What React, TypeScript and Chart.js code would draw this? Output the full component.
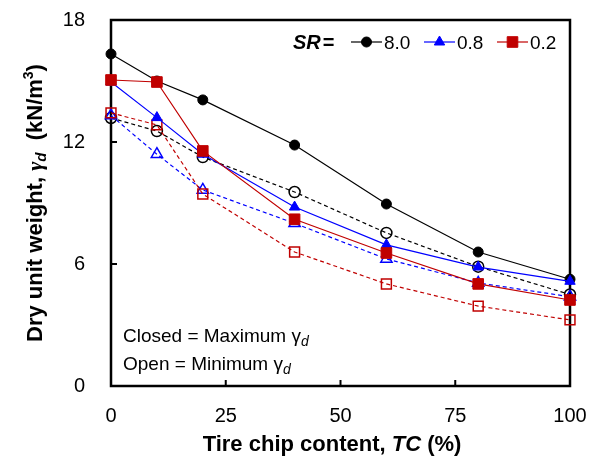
import React, { useEffect, useRef } from "react";
import { Chart, registerables } from "chart.js";

Chart.register(...registerables);

// ---------- data ----------
const tireChipContent = [0, 10, 20, 40, 60, 80, 100];

const maxSR80 = [16.33, 15.0, 14.07, 11.85, 8.95, 6.59, 5.25];
const maxSR08 = [14.95, 13.2, 11.4, 8.8, 6.94, 5.85, 5.15];
const maxSR02 = [15.05, 14.95, 11.56, 8.2, 6.54, 5.02, 4.23];

const minSR80 = [13.18, 12.54, 11.26, 9.54, 7.53, 5.87, 4.5];
const minSR08 = [13.3, 11.4, 9.64, 8.0, 6.25, 5.07, 4.39];
const minSR02 = [13.43, 12.84, 9.44, 6.59, 5.02, 3.93, 3.25];

const xTickValues = [0, 25, 50, 75, 100];
const yTickValues = [0, 6, 12, 18];

const legendLabels = ["8.0", "0.8", "0.2"];

// ---------- style ----------
const FONT = "'Liberation Sans', Arial, Helvetica, sans-serif";
const SERIF = "'Liberation Serif', 'Times New Roman', serif";
const BLACK = "#000000";
const BLUE = "#0000FF";
const RED = "#C00000";

const AREA = { left: 111, top: 20, right: 570, bottom: 386 };

type Run = { text: string; font: string; dy?: number; dx?: number };

function runsWidth(ctx: CanvasRenderingContext2D, runs: Run[]) {
  let w = 0;
  for (const r of runs) {
    ctx.font = r.font;
    w += ctx.measureText(r.text).width + (r.dx || 0);
  }
  return w;
}

function drawRuns(
  ctx: CanvasRenderingContext2D,
  runs: Run[],
  x: number,
  y: number,
  align: "left" | "center" = "left"
) {
  let cx = align === "center" ? x - runsWidth(ctx, runs) / 2 : x;
  ctx.textAlign = "left";
  ctx.textBaseline = "alphabetic";
  for (const r of runs) {
    ctx.font = r.font;
    cx += r.dx || 0;
    ctx.fillText(r.text, cx, y + (r.dy || 0));
    cx += ctx.measureText(r.text).width;
  }
}

function drawMarker(
  ctx: CanvasRenderingContext2D,
  style: string,
  x: number,
  y: number,
  r: number,
  color: string
) {
  ctx.fillStyle = color;
  ctx.strokeStyle = color;
  ctx.lineWidth = 1;
  ctx.beginPath();
  if (style === "circle") {
    ctx.arc(x, y, r, 0, Math.PI * 2);
  } else if (style === "triangle") {
    const h = r * 1.5;
    const s = (r * Math.sqrt(3)) / 2;
    ctx.moveTo(x, y - r);
    ctx.lineTo(x + s, y - r + h);
    ctx.lineTo(x - s, y - r + h);
    ctx.closePath();
  } else {
    const s = r * Math.SQRT1_2;
    ctx.rect(x - s, y - s, 2 * s, 2 * s);
  }
  ctx.fill();
  ctx.stroke();
}

const decorPlugin = {
  id: "decor",
  beforeDatasetsDraw(chart: any) {
    const { ctx, chartArea: a, scales } = chart;
    ctx.save();
    ctx.strokeStyle = BLACK;
    ctx.lineWidth = 2.5;
    ctx.strokeRect(a.left, a.top, a.right - a.left, a.bottom - a.top);
    ctx.lineWidth = 2;
    ctx.beginPath();
    for (const v of yTickValues) {
      if (v === yTickValues[0] || v === yTickValues[yTickValues.length - 1]) continue;
      const py = scales.y.getPixelForValue(v);
      ctx.moveTo(a.left, py);
      ctx.lineTo(a.left + 6, py);
    }
    for (const v of xTickValues) {
      if (v === xTickValues[0] || v === xTickValues[xTickValues.length - 1]) continue;
      const px = scales.x.getPixelForValue(v);
      ctx.moveTo(px, a.bottom);
      ctx.lineTo(px, a.bottom - 6);
    }
    ctx.stroke();
    ctx.restore();
  },
  afterDraw(chart: any) {
    const { ctx } = chart;
    ctx.save();
    ctx.fillStyle = BLACK;

    // x title
    drawRuns(
      ctx,
      [
        { text: "Tire chip content, ", font: `bold 22px ${FONT}` },
        { text: "TC", font: `italic bold 22px ${FONT}` },
        { text: " (%)", font: `bold 22px ${FONT}` },
      ],
      332,
      451,
      "center"
    );

    // y title
    ctx.save();
    ctx.translate(42, 203);
    ctx.rotate(-Math.PI / 2);
    drawRuns(
      ctx,
      [
        { text: "Dry unit weight, ", font: `bold 22px ${FONT}` },
        { text: "γ", font: `italic bold 22px ${SERIF}` },
        { text: "d", font: `italic bold 15px ${FONT}`, dy: 4 },
        { text: "  (kN/m", font: `bold 22px ${FONT}` },
        { text: "3", font: `bold 14px ${FONT}`, dy: -9 },
        { text: ")", font: `bold 22px ${FONT}` },
      ],
      0,
      0,
      "center"
    );
    ctx.restore();

    // annotations
    ctx.fillStyle = BLACK;
    drawRuns(
      ctx,
      [
        { text: "Closed = Maximum ", font: `19px ${FONT}` },
        { text: "γ", font: `19px ${FONT}` },
        { text: "d", font: `italic 14px ${FONT}`, dy: 4 },
      ],
      123,
      342
    );
    drawRuns(
      ctx,
      [
        { text: "Open = Minimum ", font: `19px ${FONT}` },
        { text: "γ", font: `19px ${FONT}` },
        { text: "d", font: `italic 14px ${FONT}`, dy: 4 },
      ],
      123,
      370
    );

    // legend
    drawRuns(
      ctx,
      [
        { text: "SR", font: `italic bold 20px ${FONT}` },
        { text: "=", font: `bold 20px ${FONT}`, dx: 2 },
      ],
      293,
      49
    );
    const items = [
      { x: 351, color: BLACK, style: "circle", r: 5 },
      { x: 424, color: BLUE, style: "triangle", r: 6 },
      { x: 497, color: RED, style: "rect", r: 7.5 },
    ];
    items.forEach((it, i) => {
      const yc = 42;
      ctx.strokeStyle = it.color;
      ctx.lineWidth = 1.2;
      ctx.beginPath();
      ctx.moveTo(it.x, yc);
      ctx.lineTo(it.x + 31, yc);
      ctx.stroke();
      drawMarker(ctx, it.style, it.x + 15.5, yc, it.r, it.color);
      ctx.fillStyle = BLACK;
      drawRuns(ctx, [{ text: legendLabels[i], font: `19px ${FONT}` }], it.x + 33, 49);
    });

    ctx.restore();
  },
};

function series(values: number[]) {
  return tireChipContent.map((x, i) => ({ x, y: values[i] }));
}

export default function App() {
  const canvasRef = useRef<HTMLCanvasElement | null>(null);

  useEffect(() => {
    if (!canvasRef.current) return;
    const closed = (label: string, data: number[], color: string, style: string, r: number, order: number) => ({
      label,
      data: series(data),
      borderColor: color,
      backgroundColor: color,
      borderWidth: 1.2,
      pointStyle: style,
      pointRadius: r,
      pointBorderWidth: 1,
      pointBackgroundColor: color,
      pointBorderColor: color,
      clip: false as const,
      order,
    });
    const open = (label: string, data: number[], color: string, style: string, r: number, order: number) => ({
      label,
      data: series(data),
      borderColor: color,
      backgroundColor: "transparent",
      borderWidth: 1.2,
      borderDash: [4, 3],
      pointStyle: style,
      pointRadius: r,
      pointBorderWidth: 1.5,
      pointBackgroundColor: "transparent",
      pointBorderColor: color,
      clip: false as const,
      order,
    });

    const hiddenGrid = (len: number) => ({
      display: true,
      drawOnChartArea: false,
      drawTicks: true,
      tickLength: len,
      tickColor: "rgba(0,0,0,0)",
      color: "rgba(0,0,0,0)",
    });

    const chart = new Chart(canvasRef.current, {
      type: "line",
      data: {
        datasets: [
          closed("SR = 0.2 max", maxSR02, RED, "rect", 7.5, 1),
          closed("SR = 0.8 max", maxSR08, BLUE, "triangle", 6, 2),
          closed("SR = 8.0 max", maxSR80, BLACK, "circle", 5, 3),
          open("SR = 0.2 min", minSR02, RED, "rect", 7, 4),
          open("SR = 0.8 min", minSR08, BLUE, "triangle", 6.5, 5),
          open("SR = 8.0 min", minSR80, BLACK, "circle", 5.5, 6),
        ] as any,
      },
      options: {
        responsive: false,
        animation: false,
        devicePixelRatio: 1,
        layout: { padding: { top: 20, right: 29, left: 0, bottom: 0 } },
        plugins: {
          legend: { display: false },
          tooltip: { enabled: false },
        },
        scales: {
          x: {
            type: "linear",
            min: 0,
            max: 100,
            grid: hiddenGrid(18),
            border: { display: false },
            afterBuildTicks: (s: any) => {
              s.ticks = xTickValues.map((v) => ({ value: v }));
            },
            afterFit: (s: any) => {
              s.height = 72;
            },
            ticks: {
              color: BLACK,
              padding: 0,
              font: { family: FONT, size: 20 },
              maxRotation: 0,
            },
          },
          y: {
            type: "linear",
            min: 0,
            max: 18,
            grid: hiddenGrid(26),
            border: { display: false },
            afterBuildTicks: (s: any) => {
              s.ticks = yTickValues.map((v) => ({ value: v }));
            },
            afterFit: (s: any) => {
              s.width = 111;
            },
            ticks: {
              color: BLACK,
              padding: 0,
              font: { family: FONT, size: 20 },
            },
          },
        },
      } as any,
      plugins: [decorPlugin],
    });

    // Align the plot area with the reference frame.
    for (let i = 0; i < 4; i++) {
      const ca = chart.chartArea;
      const p = (chart.options as any).layout.padding;
      const dt = AREA.top - ca.top;
      const dr = ca.right - AREA.right;
      const dl = AREA.left - ca.left;
      const db = ca.bottom - AREA.bottom;
      if (Math.abs(dt) < 0.5 && Math.abs(dr) < 0.5 && Math.abs(dl) < 0.5 && Math.abs(db) < 0.5) break;
      p.top += dt;
      p.right += dr;
      p.left += dl;
      p.bottom += db;
      chart.update();
    }

    return () => chart.destroy();
  }, []);

  return (
    <div style={{ position: "absolute", left: 0, top: 0, width: 599, height: 458, background: "#fff" }}>
      <canvas ref={canvasRef} width={599} height={458} style={{ width: 599, height: 458 }} />
    </div>
  );
}
